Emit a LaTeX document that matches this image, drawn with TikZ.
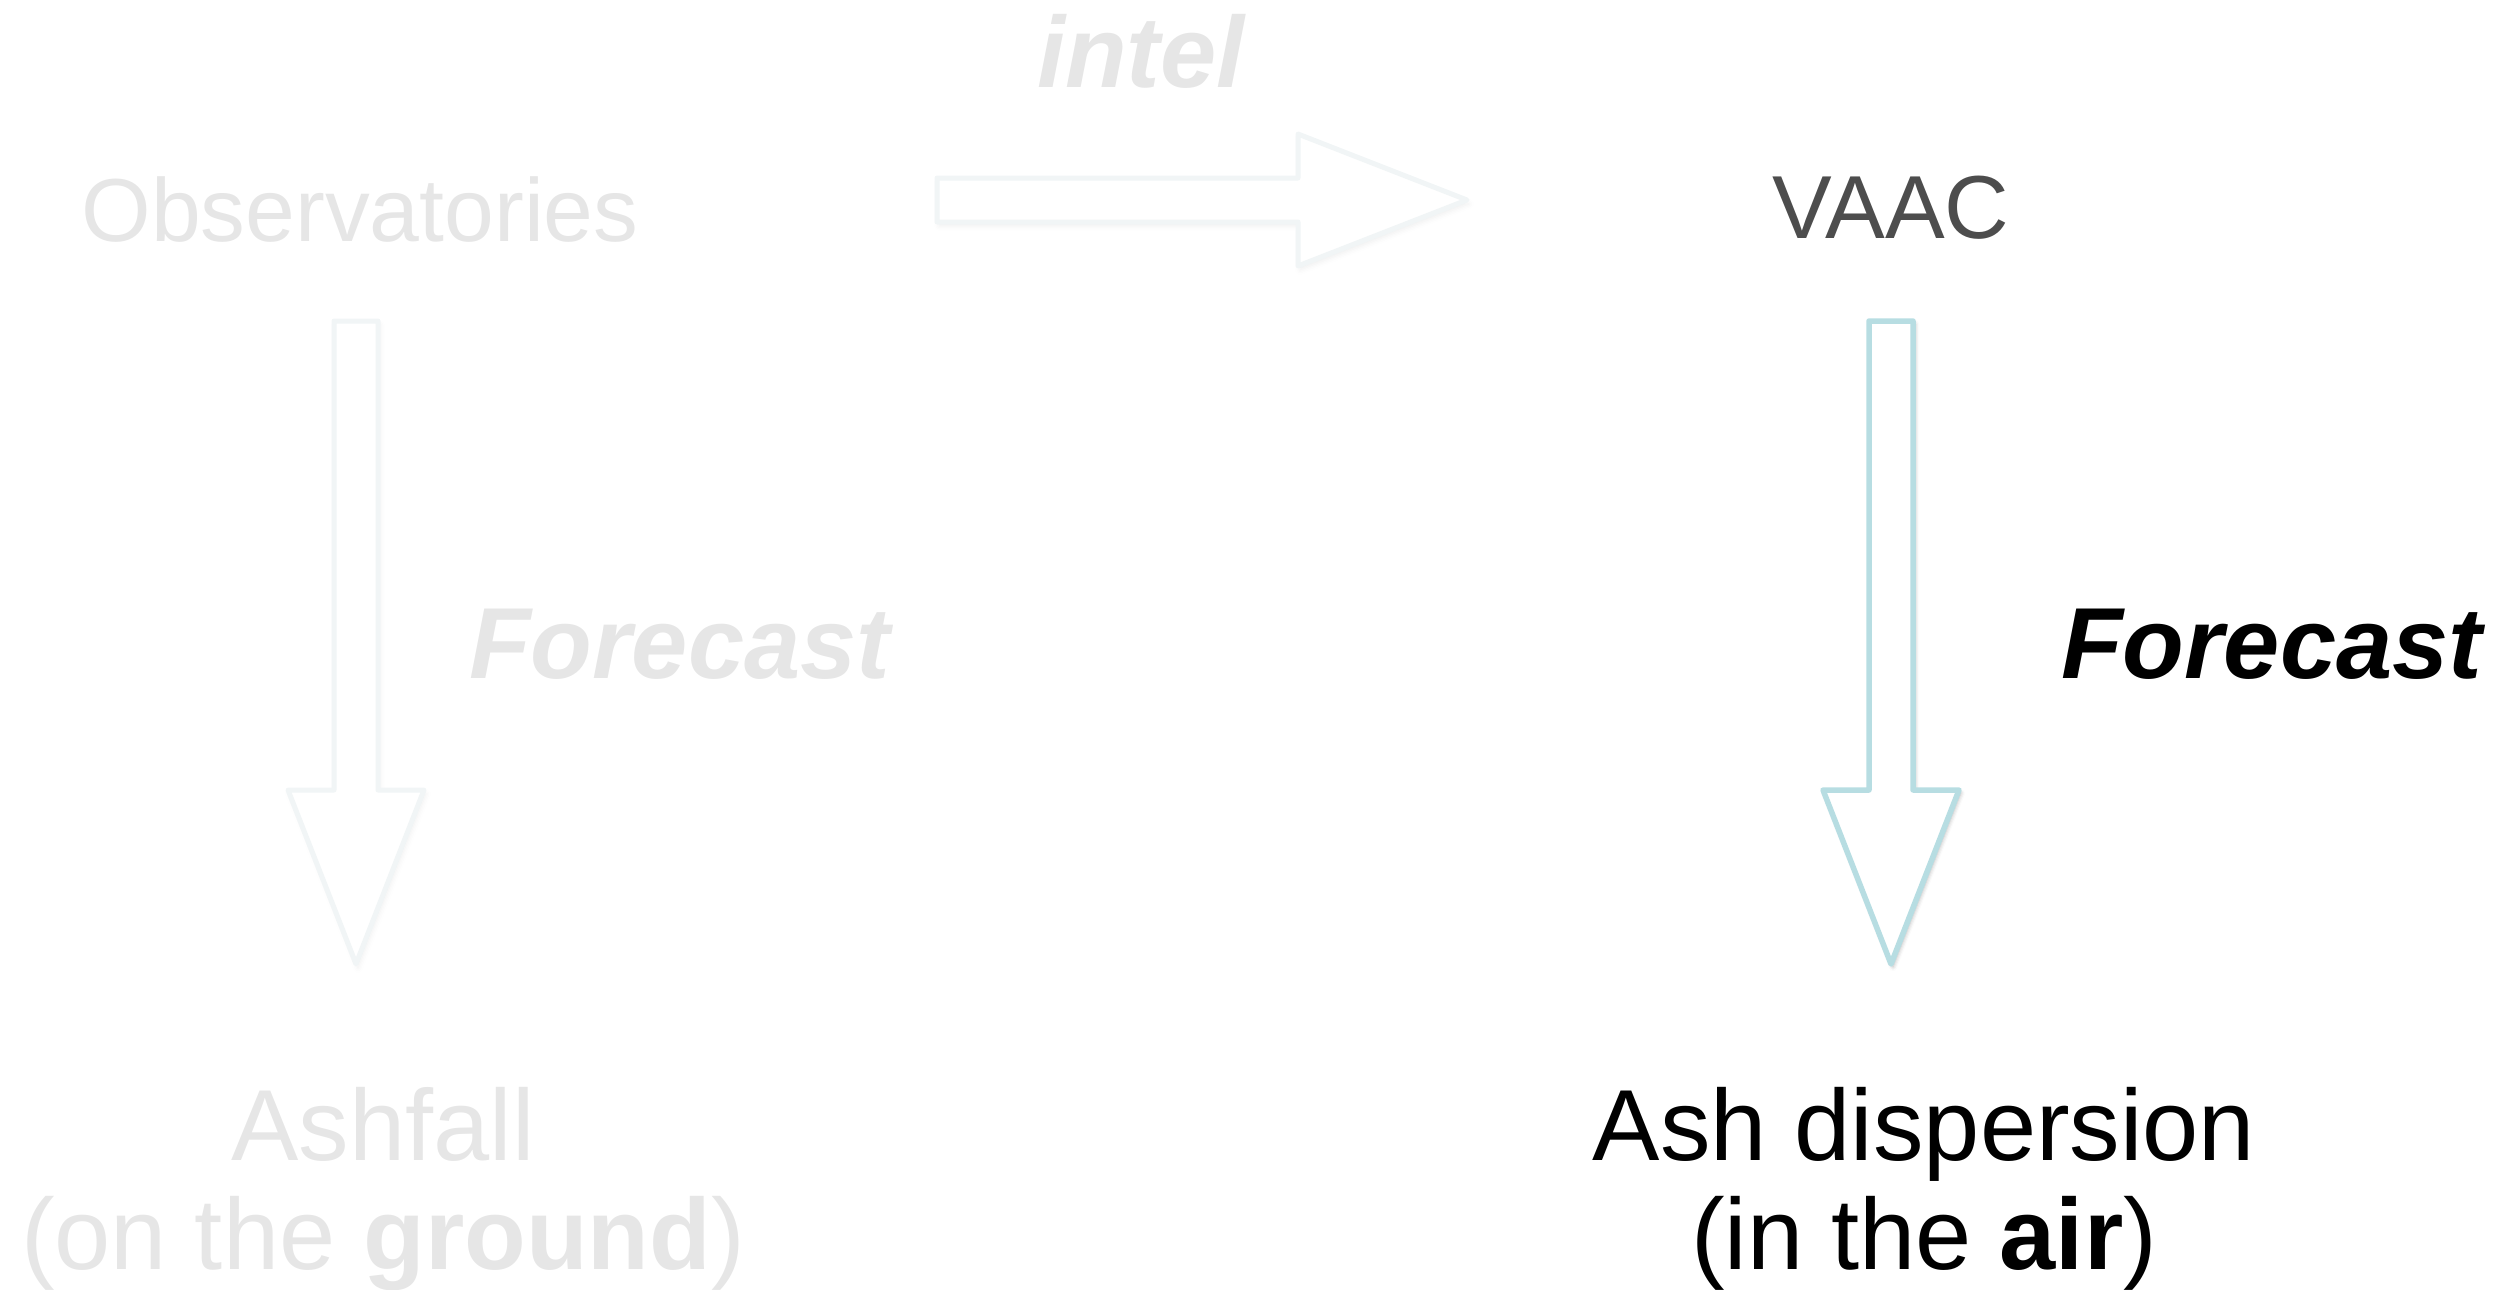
\documentclass[tikz,border=0pt]{standalone}
\usepackage{fontspec}
\setmainfont{Liberation Sans}
\usetikzlibrary{shadows.blur}

\definecolor{fadedtext}{HTML}{E6E6E6}
\definecolor{fadedline}{HTML}{F1F5F6}
\definecolor{arrowteal}{HTML}{B7DDE2}
\definecolor{vaacgray}{HTML}{4D4D4D}

\tikzset{
  lbl/.style={inner sep=0pt, anchor=base},
  small/.style={font=\fontsize{89.5}{96}\selectfont},
  big/.style={font=\fontsize{101}{109}\selectfont},
  faded/.style={text=fadedtext},
  blockfaded/.style={draw=fadedline, line width=5pt, line join=round, fill=white,
    blur shadow={shadow xshift=2pt, shadow yshift=-4pt, shadow blur radius=5pt, shadow opacity=6}},
  blockactive/.style={draw=arrowteal, line width=5.5pt, line join=round, fill=white,
    blur shadow={shadow xshift=2pt, shadow yshift=-3pt, shadow blur radius=4pt, shadow opacity=28}},
}

\begin{document}
\begin{tikzpicture}[x=1pt, y=-1pt]
  \useasboundingbox (0,0) rectangle (2519,1290);

  % labels
  \node[lbl, small, faded] (obs) at (360,241) {Observatories};
  \node[lbl, small, text=vaacgray] (vaac) at (1891,238) {VAAC};
  \node[lbl, big, faded] (intel) at (1141,88) {\bfseries\itshape intel};
  \node[lbl, big, faded, anchor=base west] (fcleft) at (469,678) {\bfseries\itshape Forecast};
  \node[lbl, big, anchor=base west] (fcright) at (2061,678) {\bfseries\itshape Forecast};
  % two-line labels: the base anchor sits on the last line
  \node[lbl, big, faded, align=center] (ground) at (383,1269)
    {Ashfall\\(on the \textbf{ground})};
  \node[lbl, big, align=center] (air) at (1924,1269)
    {Ash dispersion\\(in the \textbf{air})};

  % arrow anchors
  \coordinate (hstart) at (937,200);
  \coordinate (hend) at (1467,200);
  \coordinate (lstart) at (356,321);
  \coordinate (lend) at (356,964);
  \coordinate (rstart) at (1891,321);
  \coordinate (rend) at (1891,964);

  % Observatories -> VAAC
  \draw[blockfaded] ([yshift=22pt]hstart) -- ([xshift=-169pt,yshift=22pt]hend)
    -- ([xshift=-169pt,yshift=66pt]hend) -- (hend)
    -- ([xshift=-169pt,yshift=-66pt]hend) -- ([xshift=-169pt,yshift=-22pt]hend)
    -- ([yshift=-22pt]hstart) -- cycle;

  % Observatories -> Ashfall
  \draw[blockfaded] ([xshift=-22pt]lstart) -- ([xshift=22pt]lstart)
    -- ([xshift=22pt,yshift=174pt]lend) -- ([xshift=68pt,yshift=174pt]lend)
    -- (lend) -- ([xshift=-68pt,yshift=174pt]lend)
    -- ([xshift=-22pt,yshift=174pt]lend) -- cycle;

  % VAAC -> Ash dispersion
  \draw[blockactive] ([xshift=-22pt]rstart) -- ([xshift=22pt]rstart)
    -- ([xshift=22pt,yshift=174pt]rend) -- ([xshift=68pt,yshift=174pt]rend)
    -- (rend) -- ([xshift=-68pt,yshift=174pt]rend)
    -- ([xshift=-22pt,yshift=174pt]rend) -- cycle;
\end{tikzpicture}
\end{document}
